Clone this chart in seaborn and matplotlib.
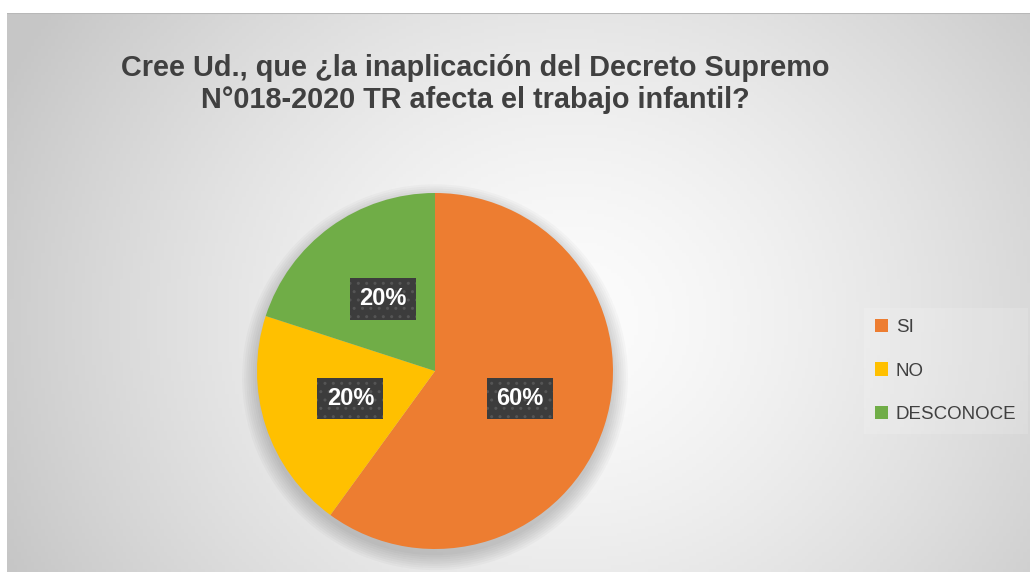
import numpy as np
import seaborn as sns
import matplotlib.pyplot as plt
from matplotlib.patches import Circle

sns.set_style('white')
plt.rcParams['font.family'] = ['Liberation Sans', 'DejaVu Sans']

# datos
categorias = ['SI', 'NO', 'DESCONOCE']
porcentajes = [60, 20, 20]
colores = ['#ED7D31', '#FFC000', '#70AD47']
titulo = 'Cree Ud., que ¿la inaplicación del Decreto Supremo\nN°018-2020 TR afecta el trabajo infantil?'

W, H = 1030, 572
fig = plt.figure(figsize=(W / 100, H / 100), dpi=100)
fig.patch.set_facecolor('white')

# fondo con degradado radial
bg = fig.add_axes([7 / W, 0, 1 - 7 / W, (H - 13) / H])
nx, ny = 300, 170
xx, yy = np.meshgrid(np.linspace(7, W, nx), np.linspace(13, H, ny))
d = np.sqrt(((xx - 570) / 620) ** 2 + ((yy - 320) / 560) ** 2)
d = np.clip(d, 0, 1)
val = 0.99 - 0.21 * d ** 1.4
img = np.dstack([val, val, val])
bg.imshow(img, extent=[0, 1, 0, 1], aspect='auto', origin='upper')
bg.axhline(1, color='#B8B8B8', lw=1.5)
bg.set_axis_off()

# pastel
r = 178
cx, cy = 435, 371
ax = fig.add_axes([(cx - r) / W, (H - cy - r) / H, 2 * r / W, 2 * r / H])
ax.set_facecolor('none')

# sombra suave
for k in range(8):
    ax.add_patch(Circle((0, -0.035), 1.0 + 0.012 * k, color='black',
                        alpha=0.022, lw=0, zorder=0, clip_on=False))

wedges, texts, autotexts = ax.pie(
    porcentajes, colors=colores, startangle=90, counterclock=False,
    autopct='%1.0f%%', pctdistance=0.5, radius=1,
    wedgeprops=dict(linewidth=0),
    textprops=dict(color='white', fontsize=17, fontweight='bold'))
for t in autotexts:
    t.set_bbox(dict(boxstyle='square,pad=0.4', facecolor='#3C3C3C',
                    edgecolor='#555555', hatch='..', linewidth=0.0))
ax.set_xlim(-1, 1)
ax.set_ylim(-1, 1)
ax.set_aspect('equal')
ax.set_axis_off()

# titulo
fig.text(475 / W, 1 - 84 / H, titulo, ha='center', va='center',
         fontsize=20.8, fontweight='bold', color='#404040')

# leyenda
leg = fig.legend(wedges, categorias, loc='center left',
                 bbox_to_anchor=(864 / W, 1 - 371 / H),
                 fontsize=13.5, labelspacing=1.4, handlelength=0.7,
                 handleheight=0.7, handletextpad=0.4, frameon=True,
                 borderpad=0.6, borderaxespad=0, fancybox=False)
leg.get_frame().set_facecolor('white')
leg.get_frame().set_alpha(0.15)
leg.get_frame().set_linewidth(0)
for t in leg.get_texts():
    t.set_color('#404040')

fig.savefig('out.png', dpi=100)
